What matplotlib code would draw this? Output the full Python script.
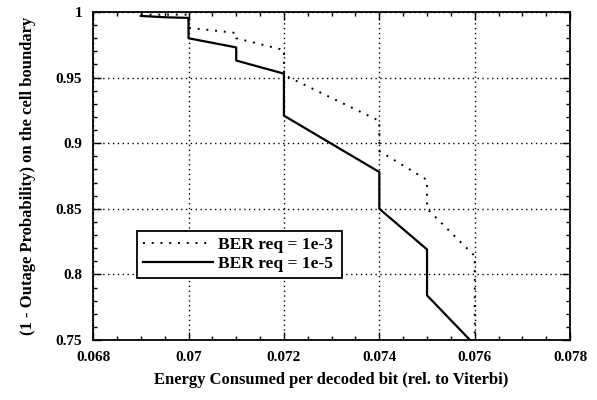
import matplotlib
matplotlib.use("Agg")
import matplotlib.pyplot as plt
from matplotlib.ticker import MultipleLocator

plt.rcParams['font.family'] = ['Liberation Serif', 'DejaVu Serif']
plt.rcParams['font.weight'] = 'bold'
plt.rcParams['axes.labelweight'] = 'bold'

# BER req = 1e-3 (dotted)
x_e3 = [0.0690, 0.0700, 0.0700, 0.0710, 0.0710, 0.0720, 0.0720, 0.0740, 0.0740, 0.0750, 0.0750, 0.0760, 0.0760]
y_e3 = [0.998, 0.998, 0.988, 0.984, 0.980, 0.971, 0.952, 0.917, 0.894, 0.872, 0.850, 0.814, 0.750]

# BER req = 1e-5 (solid)
x_e5 = [0.0690, 0.0695, 0.0700, 0.0700, 0.0710, 0.0710, 0.0720, 0.0720, 0.0740, 0.0740, 0.0750, 0.0750, 0.0759]
y_e5 = [0.997, 0.996, 0.9955, 0.980, 0.973, 0.963, 0.953, 0.921, 0.878, 0.850, 0.819, 0.784, 0.750]

labels = ['BER req = 1e-3', 'BER req = 1e-5']
xticks = [0.068, 0.070, 0.072, 0.074, 0.076, 0.078]
xticklabels = ['0.068', '0.07', '0.072', '0.074', '0.076', '0.078']
yticks = [0.75, 0.80, 0.85, 0.90, 0.95, 1.00]
yticklabels = ['0.75', '0.8', '0.85', '0.9', '0.95', '1']

fig = plt.figure(figsize=(5.97, 4.0), dpi=100)
ax = fig.add_axes([0.156, 0.15, 0.799, 0.82])

ax.plot(x_e3, y_e3, color='black', linestyle=(0, (1, 3.5)), linewidth=1.4, label=labels[0])
ax.plot(x_e5, y_e5, color='black', linestyle='-', linewidth=1.6, label=labels[1])

ax.set_xlim(0.068, 0.078)
ax.set_ylim(0.75, 1.0)
ax.set_xticks(xticks)
ax.set_xticklabels(xticklabels)
ax.set_yticks(yticks)
ax.set_yticklabels(yticklabels)
ax.xaxis.set_minor_locator(MultipleLocator(0.0005))
ax.yaxis.set_minor_locator(MultipleLocator(0.01))
ax.tick_params(which='both', direction='in', top=True, right=True, labelsize=11)
ax.tick_params(which='major', length=6, width=1)
ax.tick_params(which='minor', length=3, width=1)
ax.tick_params(axis='x', pad=8)
ax.tick_params(axis='y', pad=8)
ax.grid(True, which='major', color='black', linestyle=(0, (1, 2.5)), linewidth=1.0)
for s in ax.spines.values():
    s.set_linewidth(1.3)

ax.set_xlabel('Energy Consumed per decoded bit (rel. to Viterbi)', fontsize=12, labelpad=6)
ax.set_ylabel('(1 - Outage Probability) on the cell boundary', fontsize=12, labelpad=14)

leg = ax.legend(loc='lower left', bbox_to_anchor=(0.092, 0.189, 0.43, 0.14), mode='expand',
                fontsize=12.5, frameon=True, fancybox=False, edgecolor='black',
                handlelength=4.0, handletextpad=0.3, borderaxespad=0, borderpad=0.35,
                labelspacing=0.15)
leg.get_frame().set_linewidth(1.3)
leg.get_frame().set_alpha(1)

fig.savefig('out.png', dpi=100)
